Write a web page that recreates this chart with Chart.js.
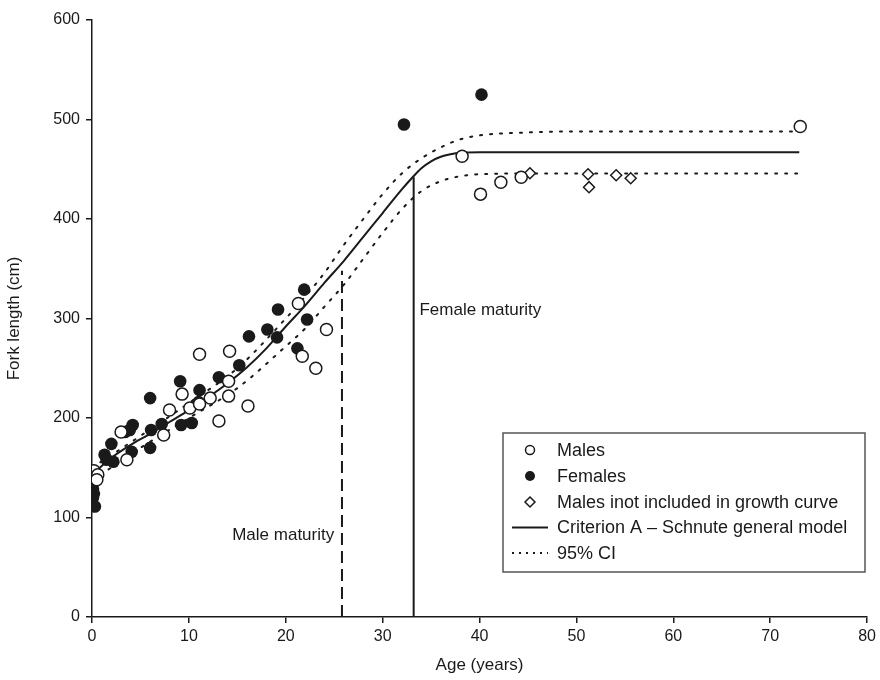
<!DOCTYPE html>
<html><head><meta charset="utf-8">
<script src="https://cdn.jsdelivr.net/npm/chart.js@4/dist/chart.umd.min.js"></script>
<style>html,body{margin:0;padding:0;background:#fff}#wrap{width:880px;height:680px}</style>
</head><body><div id="wrap"><canvas id="c" width="880" height="680"></canvas></div>
<script>
// ---- data ----
const maleAge = [0.2, 0.6, 0.5, 3.0, 3.6, 7.4, 8.0, 9.3, 10.1, 11.1, 11.1, 12.2, 13.1, 14.1, 14.2, 14.1, 16.1, 21.3, 21.7, 23.1, 24.2, 38.2, 40.1, 42.2, 44.3, 73.1];
const maleLen = [147, 143, 138, 186, 158, 183, 208, 224, 210, 264, 214, 220, 197, 237, 267, 222, 212, 315, 262, 250, 289, 463, 425, 437, 442, 493];
const femAge = [0.1, 0.2, 0.1, 0.3, 1.3, 2.0, 1.5, 2.2, 3.4, 4.2, 3.9, 4.1, 6.0, 6.1, 6.0, 7.2, 9.1, 9.2, 10.3, 11.1, 11.0, 13.1, 15.2, 16.2, 18.1, 19.1, 19.2, 21.2, 21.9, 22.2, 32.2, 40.2];
const femLen = [129, 124, 120, 111, 163, 174, 158, 156, 186, 193, 188, 166, 170, 188, 220, 194, 237, 193, 195, 228, 216, 241, 253, 282, 289, 281, 309, 270, 329, 299, 495, 525];
const exclAge = [45.2, 51.2, 51.3, 54.1, 55.6];
const exclLen = [446, 445, 432, 444, 441];
const curveAge = [0, 2, 4, 6, 8, 10, 12, 14, 16, 18, 20, 22, 24, 26, 28, 30, 32, 33, 34, 35, 36, 37, 38, 40, 50, 73];
const curveLen = [143, 160, 173, 184, 196, 208, 221, 235, 251, 270, 292, 313, 336, 358, 382, 406, 430, 441, 451, 458, 462.5, 465, 466.5, 467, 467, 467];
const ciAge = [0, 5, 10, 15, 20, 22, 24, 26, 28, 30, 32, 34, 36, 38, 40, 45, 50, 73];
const ciUpper = [150, 182, 215, 250, 300, 322, 346, 374, 400, 425, 446, 461, 472, 480, 484, 487, 488, 488];
const ciLower = [137, 170, 200, 230, 272, 290, 312, 334, 360, 386, 410, 428, 438, 443, 445, 445.7, 445.7, 445.7];
const maleMatAge = 25.8, maleMatLen = 348;
const femMatAge = 33.2, femMatLen = 442;
const xTicks = [0, 10, 20, 30, 40, 50, 60, 70, 80];
const yTicks = [0, 100, 200, 300, 400, 500, 600];
const legendLabels = ['Males', 'Females', 'Males inot included in growth curve', 'Criterion A \u2013 Schnute general model', '95% CI'];

const pts = (a, b) => a.map((v, i) => ({x: v, y: b[i]}));
const INK = '#1a1a1a';
const FONT = '"Liberation Sans", Arial, sans-serif';

const annot = {
  id: 'annot',
  afterDatasetsDraw(chart) {
    const {ctx, scales: {x, y}} = chart;
    ctx.save();
    ctx.fillStyle = INK;
    ctx.font = '17px ' + FONT;
    ctx.textBaseline = 'middle';
    ctx.textAlign = 'right';
    ctx.fillText('Male maturity', x.getPixelForValue(25.0), y.getPixelForValue(82));
    ctx.textAlign = 'left';
    ctx.fillText('Female maturity', x.getPixelForValue(33.8), y.getPixelForValue(308));
    // legend box
    const L = 503, T = 433, W = 362, H = 139;
    ctx.fillStyle = '#fff';
    ctx.fillRect(L, T, W, H);
    ctx.strokeStyle = '#555';
    ctx.lineWidth = 1.5;
    ctx.strokeRect(L, T, W, H);
    const rowY = [450, 476, 502, 527.5, 553];
    ctx.font = '18px ' + FONT;
    ctx.textAlign = 'left';
    legendLabels.forEach((t, i) => {
      const cy = rowY[i];
      ctx.fillStyle = INK;
      ctx.fillText(t, 557, cy + 1);
      ctx.strokeStyle = INK;
      ctx.lineWidth = 1.5;
      if (i === 0) { ctx.beginPath(); ctx.arc(530, cy, 4.5, 0, Math.PI * 2); ctx.stroke(); }
      if (i === 1) { ctx.beginPath(); ctx.arc(530, cy, 5, 0, Math.PI * 2); ctx.fill(); }
      if (i === 2) { ctx.beginPath(); ctx.moveTo(525, cy); ctx.lineTo(530, cy - 5); ctx.lineTo(535, cy); ctx.lineTo(530, cy + 5); ctx.closePath(); ctx.stroke(); }
      if (i === 3) { ctx.lineWidth = 2; ctx.beginPath(); ctx.moveTo(512, cy); ctx.lineTo(548, cy); ctx.stroke(); }
      if (i === 4) { ctx.lineWidth = 2; ctx.setLineDash([2, 5]); ctx.beginPath(); ctx.moveTo(512, cy); ctx.lineTo(548, cy); ctx.stroke(); ctx.setLineDash([]); }
    });
    ctx.restore();
  }
};

new Chart(document.getElementById('c'), {
  type: 'scatter',
  data: {
    datasets: [
      {label: 'Males', data: pts(maleAge, maleLen), pointStyle: 'circle', pointRadius: 6, pointBorderWidth: 1.5, borderColor: INK, backgroundColor: '#fff', showLine: false},
      {label: 'Females', data: pts(femAge, femLen), pointStyle: 'circle', pointRadius: 6.3, pointBorderWidth: 0, borderColor: INK, backgroundColor: INK, showLine: false},
      {label: 'Males excl', data: pts(exclAge, exclLen), pointStyle: 'rectRot', pointRadius: 5.5, pointBorderWidth: 1.5, borderColor: INK, backgroundColor: '#fff', showLine: false},
      {label: 'Curve', data: pts(curveAge, curveLen), showLine: true, pointRadius: 0, borderColor: INK, borderWidth: 2, cubicInterpolationMode: 'monotone'},
      {label: 'CI up', data: pts(ciAge, ciUpper), showLine: true, pointRadius: 0, borderColor: INK, borderWidth: 2, borderDash: [2, 8], borderCapStyle: 'round', cubicInterpolationMode: 'monotone'},
      {label: 'CI low', data: pts(ciAge, ciLower), showLine: true, pointRadius: 0, borderColor: INK, borderWidth: 2, borderDash: [2, 8], borderCapStyle: 'round', cubicInterpolationMode: 'monotone'},
      {label: 'Male maturity', data: [{x: maleMatAge, y: 0}, {x: maleMatAge, y: maleMatLen}], showLine: true, pointRadius: 0, borderColor: INK, borderWidth: 2, borderDash: [12, 6]},
      {label: 'Female maturity', data: [{x: femMatAge, y: 0}, {x: femMatAge, y: femMatLen}], showLine: true, pointRadius: 0, borderColor: INK, borderWidth: 2}
    ]
  },
  options: {
    responsive: false,
    animation: false,
    layout: {padding: {top: 20, right: 11, left: 0, bottom: 0}},
    plugins: {legend: {display: false}, tooltip: {enabled: false}},
    scales: {
      x: {
        type: 'linear', min: 0, max: 80,
        afterBuildTicks: s => { s.ticks = xTicks.map(v => ({value: v})); },
        afterFit: s => { s.height = 63; },
        grid: {display: true, drawOnChartArea: false, drawTicks: true, tickLength: 6, color: INK, lineWidth: 1.5},
        border: {display: true, color: INK, width: 1.5},
        ticks: {color: INK, font: {family: FONT, size: 16}, padding: 4, maxRotation: 0},
        title: {display: true, text: 'Age (years)', color: INK, font: {family: FONT, size: 17}, padding: {top: 2}}
      },
      y: {
        type: 'linear', min: 0, max: 600,
        afterBuildTicks: s => { s.ticks = yTicks.map(v => ({value: v})); },
        afterFit: s => { s.width = 92; },
        grid: {display: true, drawOnChartArea: false, drawTicks: true, tickLength: 6, color: INK, lineWidth: 1.5},
        border: {display: true, color: INK, width: 1.5},
        ticks: {color: INK, font: {family: FONT, size: 16}, padding: 6},
        title: {display: true, text: 'Fork length (cm)', color: INK, font: {family: FONT, size: 17}, padding: {bottom: 4}}
      }
    }
  },
  plugins: [annot]
});
</script>
</body></html>
